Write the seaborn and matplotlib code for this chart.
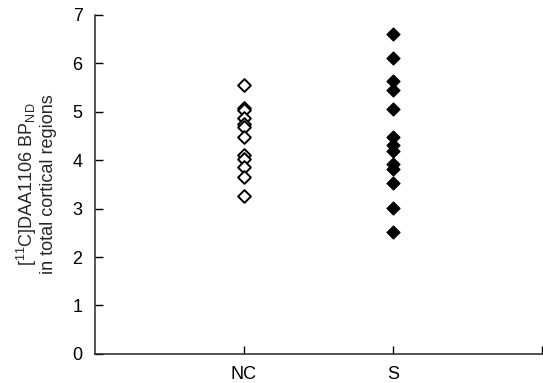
import pandas as pd
import matplotlib
matplotlib.use("Agg")
import matplotlib.pyplot as plt
import seaborn as sns

# values
nc_values = [5.55, 5.08, 5.03, 4.88, 4.75, 4.68, 4.48, 4.10, 4.03, 3.86, 3.65, 3.27]
s_values = [6.60, 6.11, 5.64, 5.46, 5.06, 4.48, 4.32, 4.20, 3.93, 3.82, 3.53, 3.02, 2.52]
groups = ["NC", "S"]
y_ticks = [0, 1, 2, 3, 4, 5, 6, 7]

df = pd.DataFrame({
    "group": ["NC"] * len(nc_values) + ["S"] * len(s_values),
    "value": nc_values + s_values,
})

sns.set_style("ticks")
plt.rcParams["font.family"] = ["Liberation Sans", "DejaVu Sans"]
plt.rcParams["mathtext.fontset"] = "custom"
plt.rcParams["mathtext.rm"] = "Liberation Sans"

fig = plt.figure(figsize=(5.43, 3.83), dpi=100)
ax = fig.add_axes([0.175, 0.076, 0.823, 0.885])

# open diamonds for NC
sns.stripplot(data=df[df.group == "NC"], x="group", y="value", order=groups,
              jitter=False, marker="D", size=6.5, color="white",
              edgecolor="black", linewidth=1.4, ax=ax)
# filled diamonds for S
sns.stripplot(data=df[df.group == "S"], x="group", y="value", order=groups,
              jitter=False, marker="D", size=6.5, color="black",
              edgecolor="black", linewidth=1.0, ax=ax)

ax.set_xlim(-1, 2)
ax.set_ylim(0, 7)
ax.set_yticks(y_ticks)
ax.set_xticks([0, 1])
ax.set_xticklabels(groups)
ax.set_xticks([2], minor=True)
ax.tick_params(axis="both", which="both", direction="in", length=6, width=1,
               labelsize=13, colors="black", pad=9)
ax.set_xlabel("")
ax.set_ylabel("[$^{11}$C]DAA1106 BP$_{\\mathrm{ND}}$\nin total cortical regions",
              fontsize=13, linespacing=1.05, labelpad=11)

for side in ["top", "right"]:
    ax.spines[side].set_visible(False)
for side in ["left", "bottom"]:
    ax.spines[side].set_linewidth(1.1)

fig.savefig("out.png", dpi=100)
